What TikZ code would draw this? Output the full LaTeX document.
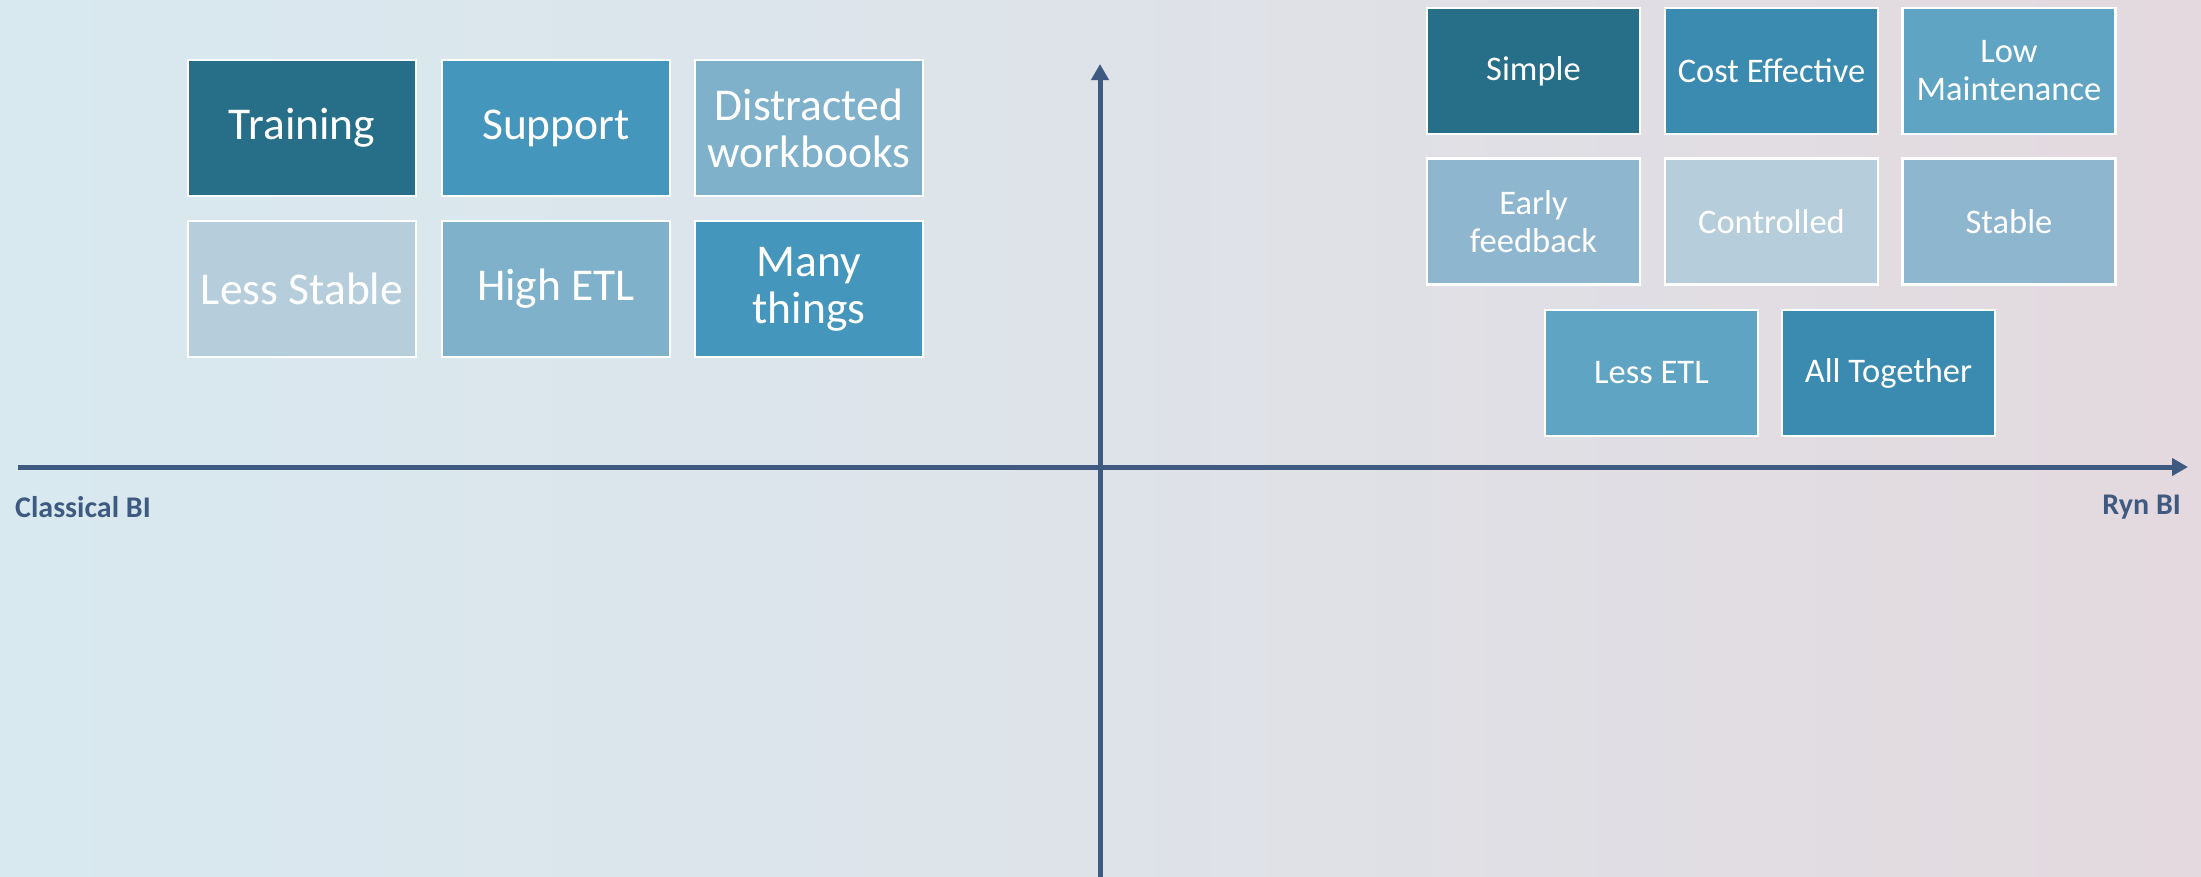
\documentclass[tikz,border=0pt]{standalone}
\usepackage{fontspec}
\setmainfont{Carlito}
\usetikzlibrary{arrows.meta}
\definecolor{axiscol}{HTML}{3F5A80}
\definecolor{cdark}{HTML}{276E88}
\definecolor{cmid}{HTML}{4496BC}
\definecolor{cmidb}{HTML}{3B8BB0}
\definecolor{clight}{HTML}{7FB1CA}
\definecolor{cpale}{HTML}{B6CEDC}
\definecolor{cmlt}{HTML}{60A4C4}
\definecolor{csoft}{HTML}{8FB6CF}
\definecolor{bgl}{HTML}{D8E9F0}
\definecolor{bgm}{HTML}{DEE3E9}
\definecolor{bgr}{HTML}{E3D9DE}
\tikzset{
  bigbox/.style={draw=white, line width=2.5pt, minimum width=228pt, minimum height=136pt,
    inner sep=2pt, align=center, text=white, font=\fontsize{45.5}{47}\selectfont},
  smallbox/.style={draw=white, line width=2.5pt, minimum width=213pt, minimum height=126pt,
    inner sep=2pt, align=center, text=white, font=\fontsize{34.5}{38}\selectfont},
  axislbl/.style={text=axiscol, font=\bfseries\fontsize{30}{34}\selectfont, inner sep=0pt},
  axisline/.style={draw=axiscol, line width=5pt, -{Triangle[length=16pt,width=17pt]}}
}
\begin{document}
\begin{tikzpicture}[x=1pt,y=-1pt]
\useasboundingbox (0,0) rectangle (2201,876);
\shade[left color=bgl, right color=bgr, middle color=bgm] (0,0) rectangle (2201,876);
% left boxes
\node[bigbox, fill=cdark] (training) at (302,128) {Training};
\node[bigbox, fill=cmid] (support) at (556,128) {Support};
\node[bigbox, fill=clight] (distracted) at (809,128) {Distracted\\workbooks};
\node[bigbox, fill=cpale] (lessstable) at (302,289) {Less Stable};
\node[bigbox, fill=clight] (highetl) at (556,289) {High ETL};
\node[bigbox, fill=cmid] (many) at (809,289) {Many\\things};
% right boxes
\node[smallbox, fill=cdark] (simple) at (1533.5,71) {Simple};
\node[smallbox, fill=cmidb] (cost) at (1771.5,71) {Cost Effective};
\node[smallbox, fill=cmlt] (lowm) at (2009,71) {Low\\Maintenance};
\node[smallbox, fill=csoft] (early) at (1533.5,221.5) {Early\\feedback};
\node[smallbox, fill=cpale] (controlled) at (1771.5,221.5) {Controlled};
\node[smallbox, fill=csoft] (stable) at (2009,221.5) {Stable};
\node[smallbox, fill=cmlt] (lessetl) at (1651.5,373) {Less ETL};
\node[smallbox, fill=cmidb] (alltog) at (1888.5,373) {All Together};
% axes
\coordinate (hstart) at (18,467);
\coordinate (hend) at (2188,467);
\coordinate (vstart) at (1100,880);
\coordinate (vend) at (1100,64);
\draw[axisline] (hstart) -- (hend);
\draw[axisline] (vstart) -- (vend);
\node[axislbl, anchor=west] (classical) at (15,507) {Classical BI};
\node[axislbl, anchor=east] (ryn) at (2181,507) {Ryn BI};
\end{tikzpicture}
\end{document}
